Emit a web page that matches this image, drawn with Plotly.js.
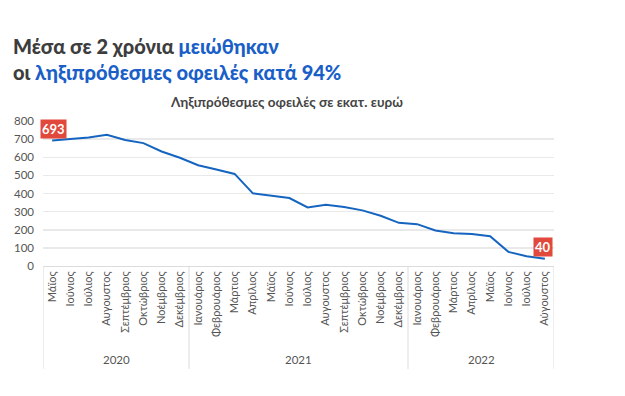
<!DOCTYPE html>
<html><head><meta charset="utf-8">
<script src="https://cdn.plot.ly/plotly-3.0.1.min.js"></script>
<style>html,body{margin:0;padding:0;background:#fff}#c{width:625px;height:396px}</style>
</head><body><div id="c"></div>
<script>
const years = ['2020','2020','2020','2020','2020','2020','2020','2020',
  '2021','2021','2021','2021','2021','2021','2021','2021','2021','2021','2021','2021',
  '2022','2022','2022','2022','2022','2022','2022','2022'];
const months = ['Μάϊος','Ιούνιος','Ιούλιος','Αυγουστος','Σεπτέμβριος','Οκτώβριος','Νοέμβριος','Δεκέμβριος',
  'Ιανουάριος','Φεβρουάριος','Μάρτιος','Απρίλιος','Μάϊος','Ιούνιος','Ιούλιος','Αυγουστος','Σεπτέμβριος','Οκτώβριος','Νοέμβριος','Δεκέμβριος',
  'Ιανουάριος','Φεβρουάριος','Μάρτιος','Απρίλιος','Μάϊος','Ιούνιος','Ιούλιος','Αύγουστος'];
const debts = [693,702,709,724,695,678,632,597,556,532,508,401,386,375,323,338,325,307,277,238,231,196,181,176,164,78,54,40];

const grey = '#555';
const n = debts.length;
const idx = months.map((_, i) => i);

const trace = {
  type:'scatter', mode:'lines',
  x: idx, y: debts,
  line:{color:'#1565c0', width:2},
  hoverinfo:'skip'
};

// year groups
const groups = [];
years.forEach((y, i) => {
  if (!groups.length || groups[groups.length-1].year !== y) groups.push({year:y, start:i, end:i});
  else groups[groups.length-1].end = i;
});

const shapes = [];
const annotations = [];
groups.forEach((g, k) => {
  if (k === 0) shapes.push({type:'line', xref:'x', yref:'paper', x0:g.start-0.5, x1:g.start-0.5, y0:0, y1:-0.71, line:{color:'#dcdcdc', width:1}});
  shapes.push({type:'line', xref:'x', yref:'paper', x0:g.end+0.5, x1:g.end+0.5, y0:0, y1:-0.71, line:{color:'#dcdcdc', width:1}});
  annotations.push({text:g.year, xref:'x', yref:'paper', x:(g.start+g.end)/2, y:-0.648,
    showarrow:false, xanchor:'center', yanchor:'middle', font:{size:11.5, color:grey}});
});

annotations.push(
  {text:'Ληξιπρόθεσμες οφειλές σε εκατ. ευρώ', xref:'paper', yref:'paper',
   x:(286-43)/511, y:1, yshift:19, showarrow:false, xanchor:'center', yanchor:'middle',
   font:{size:13.5, color:'#444', weight:700}},
  {text:'<b>'+debts[0]+'</b>', x:idx[0], y:debts[0], xref:'x', yref:'y',
   showarrow:false, yshift:11, xshift:1.5, bgcolor:'#e0493b', borderpad:1,
   font:{size:13, color:'#fff'}},
  {text:'<b>'+debts[n-1]+'</b>', x:idx[n-1], y:debts[n-1], xref:'x', yref:'y',
   showarrow:false, yshift:12, xshift:-1.5, bgcolor:'#e0493b', borderpad:1,
   font:{size:13, color:'#fff'}}
);

const layout = {
  width:625, height:396,
  margin:{l:43, r:71, t:121, b:130},
  paper_bgcolor:'#fff', plot_bgcolor:'#fff',
  showlegend:false,
  font:{family:'Lato, "Open Sans", sans-serif', color:grey},
  title:{
    text:'Μέσα σε 2 χρόνια <span style="color:#1a5fc8">μειώθηκαν</span><br>οι <span style="color:#1a5fc8">ληξιπρόθεσμες οφειλές κατά 94%</span>',
    font:{family:'Lato, sans-serif', size:20, color:'#3d3d3d', weight:900},
    xref:'container', yref:'container', x:13/625, xanchor:'left', y:1-54/396, yanchor:'top'
  },
  xaxis:{
    range:[-0.5, n-0.5],
    tickmode:'array', tickvals:idx, ticktext:months,
    tickangle:-90,
    tickfont:{size:11, color:grey},
    showline:true, linecolor:'#dcdcdc', linewidth:1,
    showgrid:false, zeroline:false, ticks:''
  },
  yaxis:{
    range:[0,800], dtick:100,
    tickfont:{size:11.5, color:grey},
    gridcolor:'#e9e9e9', gridwidth:1.5, zeroline:false,
    ticks:'', ticklabelstandoff:8
  },
  shapes: shapes,
  annotations: annotations
};
Plotly.newPlot('c',[trace],layout,{displayModeBar:false, staticPlot:true});
</script></body></html>
